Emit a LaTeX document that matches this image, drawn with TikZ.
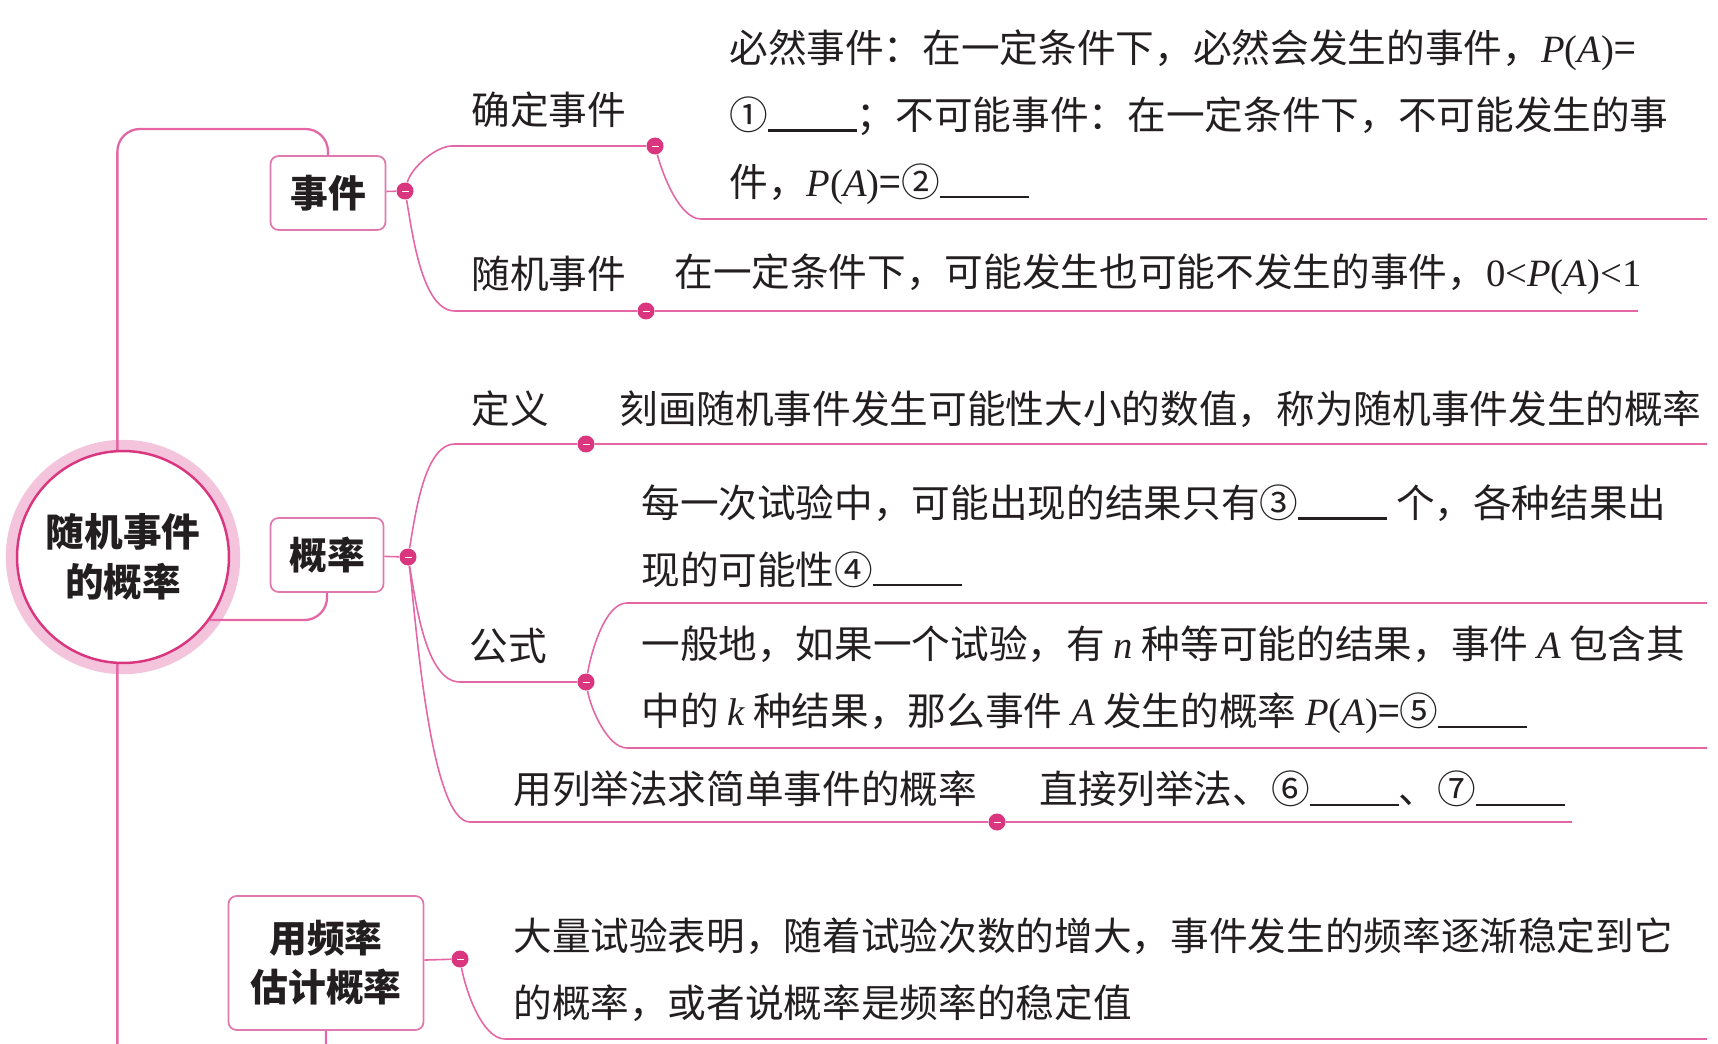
\documentclass[tikz,border=0pt]{standalone}
\usepackage{fontspec}
\setmainfont{Liberation Serif}
\newfontfamily\cjk{Noto Sans CJK SC}
\usepackage{tikz}
\usetikzlibrary{positioning,calc}
\definecolor{MapLine}{HTML}{E466A5}
\definecolor{MapDot}{HTML}{D9367F}
\definecolor{MapBox}{HTML}{E07AAE}
\definecolor{MapRing}{HTML}{F4C3DC}
\definecolor{MapInk}{HTML}{231F20}
\newcommand{\fillblank}{\rule[-0.06em]{2.3em}{0.06em}}
\newcommand{\mv}[1]{{\rmfamily\itshape #1}}
\newcommand{\PA}{{\rmfamily\textit{P}(\textit{A})}}

\begin{document}
\begin{tikzpicture}[x=0.02cm, y=-0.02cm, every node/.style={text=MapInk}, topic/.style={rounded corners=1.6mm, draw=MapBox, line width=1pt, fill=white, align=center, font=\cjk\bfseries\fontsize{21.5}{28}\selectfont}, leaf/.style={anchor=west, inner sep=0pt, align=left, font=\cjk\fontsize{22}{38}\selectfont}, dot/.style={circle, fill=MapDot, inner sep=0pt, minimum size=0.34cm, path picture={\draw[white, line width=0.5pt] ([xshift=-0.07cm]path picture bounding box.center) -- ([xshift=0.07cm]path picture bounding box.center);}}, trunk/.style={draw=MapLine, line width=1.3pt, rounded corners=0.45cm}, twig/.style={draw=MapLine, line width=0.9pt, looseness=0.7}]
\useasboundingbox (0,0) rectangle (1718,1044);
\clip (0,0) rectangle (1718,1044);
% centre and the three topics
\node[circle, draw=MapDot, line width=1.4pt, fill=white, minimum size=4.24cm, preaction={draw=MapRing, line width=0.45cm}, align=center, font=\cjk\bfseries\fontsize{22}{28.5}\selectfont] (root) at (123,557) {随机事件\\的概率};
\node[topic, minimum width=2.3cm, minimum height=1.48cm] (ev) at (328,193) {事件};
\node[topic, minimum width=2.26cm, minimum height=1.48cm] (prob) at (327,555) {概率};
\node[topic, minimum width=3.9cm, minimum height=2.68cm] (freq) at (326,963) {用频率\\估计概率};
\node[dot] (ev-dot) at (405,191) {};
\node[dot] (sure-dot) at (655,146) {};
\node[dot] (rand-dot) at (646,311) {};
\node[dot] (prob-dot) at (408,557) {};
\node[dot] (def-dot) at (586,444) {};
\node[dot] (form-dot) at (586,682) {};
\node[dot] (enum-dot) at (997,822) {};
\node[dot] (freq-dot) at (460,959) {};
\coordinate (trunk-top) at (200,129);
\coordinate (trunk-bot) at (200,1080);
\coordinate (sure-l) at (452,146);
\coordinate (sure-r) at (701,219);
\coordinate (sure-end) at (1707,219);
\coordinate (rand-l) at (455,311);
\coordinate (rand-end) at (1638,311);
\coordinate (def-l) at (455,444);
\coordinate (def-end) at (1707,444);
\coordinate (form-l) at (460,682);
\coordinate (trial-l) at (627,603);
\coordinate (trial-end) at (1707,603);
\coordinate (gen-l) at (627,748);
\coordinate (gen-end) at (1707,748);
\coordinate (enum-l) at (470,822);
\coordinate (enum-end) at (1572,822);
\coordinate (freq-l) at (505,1039);
\coordinate (freq-end) at (1707,1039);
% trunk
\draw[trunk] (root.93) |- (trunk-top) -| (ev.north);
\draw[trunk] (root.-36) -| (prob.south);
\draw[trunk] (root.267) |- (trunk-bot) -| (freq.south);
\foreach \n in {ev,prob,freq}{\draw[twig] (\n)--(\n-dot);}
% branches
\draw[twig] (ev-dot) to[out=75,in=180] (sure-l) -- (sure-dot);
\draw[twig] (sure-dot) to[out=-75,in=180] (sure-r) -- (sure-end);
\draw[twig] (ev-dot) to[out=-80,in=180] (rand-l) -- (rand-dot) -- (rand-end);
\draw[twig] (prob-dot) to[out=80,in=180] (def-l) -- (def-dot) -- (def-end);
\draw[twig] (prob-dot) to[out=-80,in=180] (form-l) -- (form-dot);
\draw[twig] (form-dot) to[out=80,in=180] (trial-l) -- (trial-end);
\draw[twig] (form-dot) to[out=-80,in=180] (gen-l) -- (gen-end);
\draw[twig, looseness=0.4] (prob-dot) to[out=-82,in=180] (enum-l) -- (enum-dot) -- (enum-end);
\draw[twig] (freq-dot) to[out=-80,in=180] (freq-l) -- (freq-end);
% texts
\node[leaf] (sure-lbl) at (471,110) {确定事件};
\node[leaf] (sure-txt) at (729,117) {必然事件：在一定条件下，必然会发生的事件，\PA=\\①\fillblank；不可能事件：在一定条件下，不可能发生的事\\件，\PA=②\fillblank};
\node[leaf] (rand-lbl) at (471,274) {随机事件};
\node[leaf] (rand-txt) at (674,274) {在一定条件下，可能发生也可能不发生的事件，{\rmfamily 0<\PA<1}};
\node[leaf] (def-lbl) at (471,409) {定义};
\node[leaf] (def-txt) at (619,409) {刻画随机事件发生可能性大小的数值，称为随机事件发生的概率};
\node[leaf] (trial-txt) at (641,536) {每一次试验中，可能出现的结果只有③\fillblank\ 个，各种结果出\\现的可能性④\fillblank};
\node[leaf] (form-lbl) at (469,646) {公式};
\node[leaf] (gen-txt) at (641,680) {一般地，如果一个试验，有 \mv{n} 种等可能的结果，事件 \mv{A} 包含其\\中的 \mv{k} 种结果，那么事件 \mv{A} 发生的概率 \PA=⑤\fillblank};
\node[leaf] (enum-lbl) at (513,789) {用列举法求简单事件的概率};
\node[leaf] (enum-txt) at (1039,789) {直接列举法、⑥\fillblank、⑦\fillblank};
\node[leaf] (freq-txt) at (513,970) {大量试验表明，随着试验次数的增大，事件发生的频率逐渐稳定到它\\的概率，或者说概率是频率的稳定值};
\end{tikzpicture}
\end{document}
